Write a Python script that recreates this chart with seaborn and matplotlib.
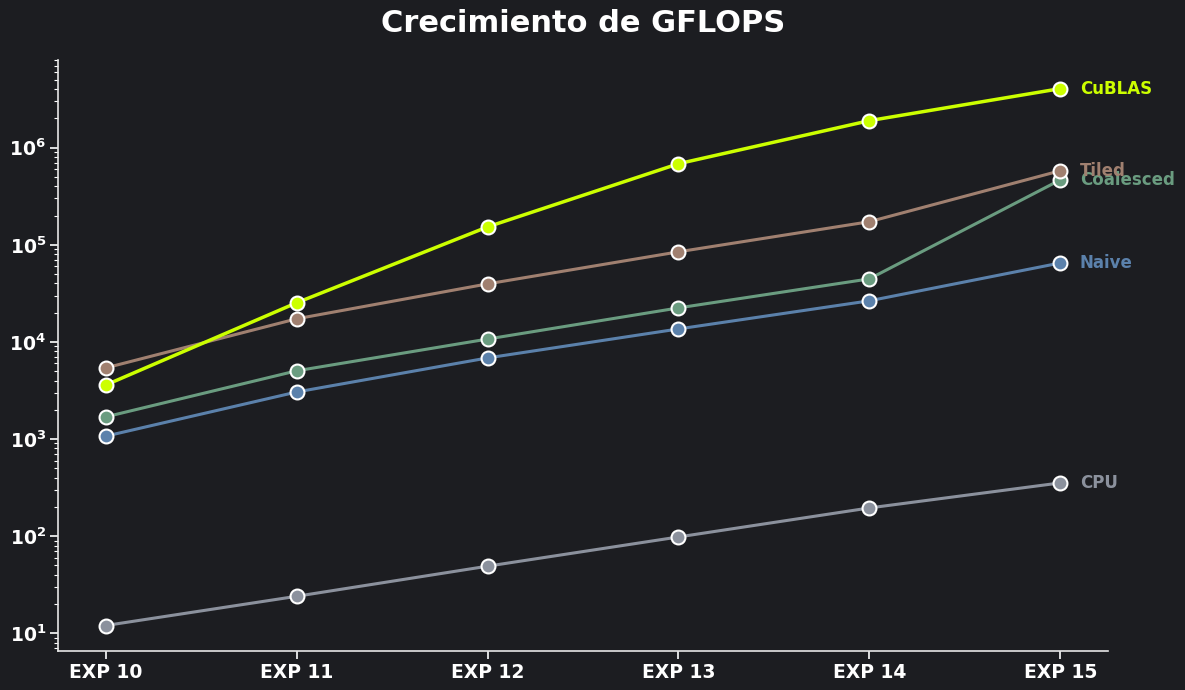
import numpy as np
import pandas as pd
import matplotlib
matplotlib.use("Agg")
import matplotlib.pyplot as plt
from matplotlib.ticker import NullFormatter
import seaborn as sns

experiments = ["EXP 10", "EXP 11", "EXP 12", "EXP 13", "EXP 14", "EXP 15"]
cpu = [12, 24, 49, 98, 195, 353]
naive = [1070, 3050, 6840, 13600, 26500, 65000]
coalesced = [1690, 5040, 10700, 22400, 44600, 466000]
tiled = [5400, 17300, 39600, 84700, 173000, 579000]
cublas = [3600, 25300, 153000, 684000, 1900000, 4060000]

series_names = ["CPU", "Naive", "Coalesced", "Tiled", "CuBLAS"]
series_values = [cpu, naive, coalesced, tiled, cublas]
colors = {"CPU": "#8b919d", "Naive": "#5b81ab", "Coalesced": "#6a9c80",
          "Tiled": "#a08070", "CuBLAS": "#ccff00"}

rows = []
for name, vals in zip(series_names, series_values):
    for i, (e, v) in enumerate(zip(experiments, vals)):
        rows.append({"exp": e, "idx": i, "serie": name, "gflops": v})
df = pd.DataFrame(rows)

bg = "#1c1d21"
sns.set_theme(style="dark")
plt.rcParams['font.family'] = ['DejaVu Sans']

fig, ax = plt.subplots(figsize=(11.85, 6.9), dpi=100)
fig.patch.set_facecolor(bg)
ax.set_facecolor(bg)

for name in series_names:
    sub = df[df.serie == name]
    sns.lineplot(data=sub, x="idx", y="gflops", ax=ax, color=colors[name],
                 linewidth=2.5 if name == "CuBLAS" else 2.2,
                 marker="o", markersize=10, markeredgecolor="white",
                 markeredgewidth=1.5, legend=False, zorder=5 if name == "CuBLAS" else 3)
    ax.annotate(name, xy=(sub.idx.iloc[-1], sub.gflops.iloc[-1]),
                xytext=(14, 0), textcoords="offset points",
                va="center", ha="left", color=colors[name],
                fontsize=12, fontweight="bold")

ax.set_yscale("log")
ax.set_xticks(range(len(experiments)))
ax.set_xticklabels(experiments)
ax.yaxis.set_minor_formatter(NullFormatter())
ax.set_xlim(-0.25, 5.25)
ax.set_ylim(6.5, 8e6)
ax.set_xlabel("")
ax.set_ylabel("")
ax.set_title("Crecimiento de GFLOPS", color="white", fontsize=22,
             fontweight="bold", pad=20)

for s in ["top", "right"]:
    ax.spines[s].set_visible(False)
for s in ["left", "bottom"]:
    ax.spines[s].set_visible(True)
    ax.spines[s].set_color("#e6e6e6")
    ax.spines[s].set_linewidth(1.2)
ax.grid(False)
ax.tick_params(axis="both", which="major", colors="white", labelsize=13.5,
               length=6, width=1.2, bottom=True, left=True, pad=2.5)
ax.tick_params(axis="y", which="minor", colors="white", length=3, width=0.8, left=True)
for lbl in ax.get_xticklabels() + ax.get_yticklabels():
    lbl.set_fontweight("bold")
    lbl.set_color("white")

fig.subplots_adjust(left=0.049, right=0.935, top=0.913, bottom=0.056)
fig.savefig("out.png", dpi=100, facecolor=bg)
